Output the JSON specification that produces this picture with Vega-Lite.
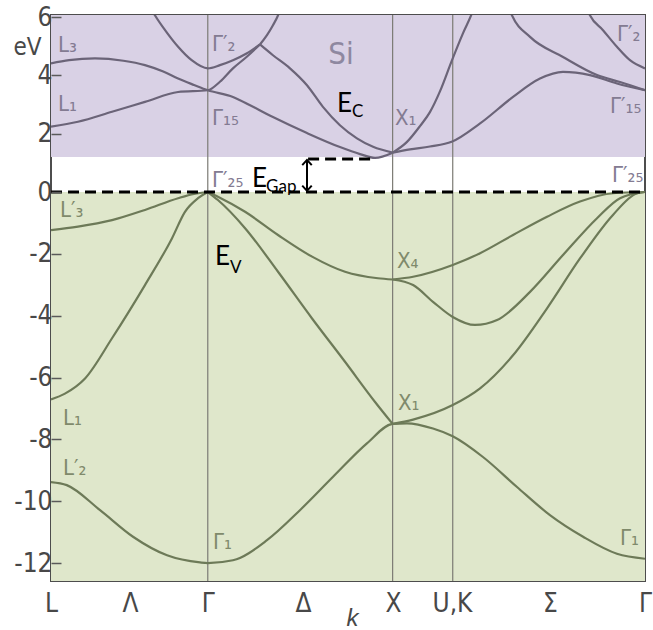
{
  "$schema": "https://vega.github.io/schema/vega-lite/v6.json",
  "width": 594,
  "height": 566,
  "autosize": "none",
  "padding": {"left": 51, "top": 15, "right": 8, "bottom": 49},
  "background": "white",
  "config": {
    "view": {"stroke": "#4d4d4d", "strokeWidth": 2},
    "axis": {"grid": false, "domain": false, "labelFont": "'Liberation Sans Narrow', 'DejaVu Sans Condensed', 'Liberation Sans', sans-serif", "labelFontSize": 26, "labelColor": "#484848", "titleFont": "'Liberation Sans Narrow', 'DejaVu Sans Condensed', 'Liberation Sans', sans-serif", "titleColor": "#484848", "titleFontWeight": "normal", "labelFlush": false, "labelOverlap": false, "labelBound": false}
  },
  "datasets": {
    "zones": [
      {"zone": "cond", "k": 0, "k2": 3.281, "E": 1.2, "E2": 6.07},
      {"zone": "val", "k": 0, "k2": 3.281, "E": -12.58, "E2": 0}
    ],
    "points": [
      {"name": "Γ", "k": 0.866, "E": -12.58, "E2": 6.07},
      {"name": "X", "k": 1.887, "E": -12.58, "E2": 6.07},
      {"name": "U,K", "k": 2.219, "E": -12.58, "E2": 6.07}
    ],
    "bands": [
      {"seg": "c_L3", "band": "cond", "k": 0, "E": 4.41},
      {"seg": "c_L3", "band": "cond", "k": 0.1, "E": 4.52},
      {"seg": "c_L3", "band": "cond", "k": 0.243, "E": 4.58},
      {"seg": "c_L3", "band": "cond", "k": 0.4, "E": 4.5},
      {"seg": "c_L3", "band": "cond", "k": 0.519, "E": 4.35},
      {"seg": "c_L3", "band": "cond", "k": 0.62, "E": 4.13},
      {"seg": "c_L3", "band": "cond", "k": 0.702, "E": 3.89},
      {"seg": "c_L3", "band": "cond", "k": 0.79, "E": 3.67},
      {"seg": "c_L3", "band": "cond", "k": 0.866, "E": 3.49},
      {"seg": "c_L3", "band": "cond", "k": 1.005, "E": 3.26},
      {"seg": "c_L3", "band": "cond", "k": 1.044, "E": 3.15},
      {"seg": "c_L3", "band": "cond", "k": 1.226, "E": 2.57},
      {"seg": "c_L3", "band": "cond", "k": 1.414, "E": 2.02},
      {"seg": "c_L3", "band": "cond", "k": 1.596, "E": 1.54},
      {"seg": "c_L3", "band": "cond", "k": 1.707, "E": 1.3},
      {"seg": "c_L3", "band": "cond", "k": 1.79, "E": 1.17},
      {"seg": "c_L3", "band": "cond", "k": 1.887, "E": 1.35},

      {"seg": "c_L1", "band": "cond", "k": 0, "E": 2.24},
      {"seg": "c_L1", "band": "cond", "k": 0.149, "E": 2.41},
      {"seg": "c_L1", "band": "cond", "k": 0.337, "E": 2.75},
      {"seg": "c_L1", "band": "cond", "k": 0.519, "E": 3.09},
      {"seg": "c_L1", "band": "cond", "k": 0.702, "E": 3.43},
      {"seg": "c_L1", "band": "cond", "k": 0.866, "E": 3.49},
      {"seg": "c_L1", "band": "cond", "k": 0.933, "E": 3.78},
      {"seg": "c_L1", "band": "cond", "k": 1.005, "E": 4.24},
      {"seg": "c_L1", "band": "cond", "k": 1.08, "E": 4.63},
      {"seg": "c_L1", "band": "cond", "k": 1.154, "E": 5.06},

      {"seg": "c_G2", "band": "cond", "k": 0.558, "E": 6.23},
      {"seg": "c_G2", "band": "cond", "k": 0.574, "E": 6.06},
      {"seg": "c_G2", "band": "cond", "k": 0.63, "E": 5.55},
      {"seg": "c_G2", "band": "cond", "k": 0.702, "E": 4.98},
      {"seg": "c_G2", "band": "cond", "k": 0.777, "E": 4.52},
      {"seg": "c_G2", "band": "cond", "k": 0.866, "E": 4.24},
      {"seg": "c_G2", "band": "cond", "k": 0.933, "E": 4.35},
      {"seg": "c_G2", "band": "cond", "k": 1.005, "E": 4.52},
      {"seg": "c_G2", "band": "cond", "k": 1.08, "E": 4.75},
      {"seg": "c_G2", "band": "cond", "k": 1.154, "E": 5.06},

      {"seg": "c_top", "band": "cond", "k": 1.154, "E": 5.06},
      {"seg": "c_top", "band": "cond", "k": 1.193, "E": 5.38},
      {"seg": "c_top", "band": "cond", "k": 1.226, "E": 5.72},
      {"seg": "c_top", "band": "cond", "k": 1.254, "E": 6.06},
      {"seg": "c_top", "band": "cond", "k": 1.265, "E": 6.25},

      {"seg": "c_down", "band": "cond", "k": 1.154, "E": 5.06},
      {"seg": "c_down", "band": "cond", "k": 1.226, "E": 4.69},
      {"seg": "c_down", "band": "cond", "k": 1.32, "E": 4.24},
      {"seg": "c_down", "band": "cond", "k": 1.414, "E": 3.66},
      {"seg": "c_down", "band": "cond", "k": 1.502, "E": 2.92},
      {"seg": "c_down", "band": "cond", "k": 1.596, "E": 2.29},
      {"seg": "c_down", "band": "cond", "k": 1.69, "E": 1.84},
      {"seg": "c_down", "band": "cond", "k": 1.779, "E": 1.55},
      {"seg": "c_down", "band": "cond", "k": 1.887, "E": 1.35},

      {"seg": "c_Xsteep", "band": "cond", "k": 1.887, "E": 1.35},
      {"seg": "c_Xsteep", "band": "cond", "k": 1.965, "E": 1.71},
      {"seg": "c_Xsteep", "band": "cond", "k": 2.038, "E": 2.26},
      {"seg": "c_Xsteep", "band": "cond", "k": 2.093, "E": 2.74},
      {"seg": "c_Xsteep", "band": "cond", "k": 2.149, "E": 3.46},
      {"seg": "c_Xsteep", "band": "cond", "k": 2.213, "E": 4.49},
      {"seg": "c_Xsteep", "band": "cond", "k": 2.276, "E": 5.45},
      {"seg": "c_Xsteep", "band": "cond", "k": 2.325, "E": 6.13},
      {"seg": "c_Xsteep", "band": "cond", "k": 2.335, "E": 6.3},

      {"seg": "c_Xgentle", "band": "cond", "k": 1.887, "E": 1.35},
      {"seg": "c_Xgentle", "band": "cond", "k": 1.983, "E": 1.46},
      {"seg": "c_Xgentle", "band": "cond", "k": 2.093, "E": 1.56},
      {"seg": "c_Xgentle", "band": "cond", "k": 2.213, "E": 1.72},
      {"seg": "c_Xgentle", "band": "cond", "k": 2.37, "E": 2.35},
      {"seg": "c_Xgentle", "band": "cond", "k": 2.552, "E": 3.26},
      {"seg": "c_Xgentle", "band": "cond", "k": 2.701, "E": 3.89},
      {"seg": "c_Xgentle", "band": "cond", "k": 2.828, "E": 4.12},
      {"seg": "c_Xgentle", "band": "cond", "k": 2.977, "E": 4.01},
      {"seg": "c_Xgentle", "band": "cond", "k": 3.126, "E": 3.72},
      {"seg": "c_Xgentle", "band": "cond", "k": 3.281, "E": 3.49},

      {"seg": "c_Sig", "band": "cond", "k": 2.53, "E": 6.3},
      {"seg": "c_Sig", "band": "cond", "k": 2.546, "E": 6.06},
      {"seg": "c_Sig", "band": "cond", "k": 2.646, "E": 5.32},
      {"seg": "c_Sig", "band": "cond", "k": 2.828, "E": 4.63},
      {"seg": "c_Sig", "band": "cond", "k": 3.016, "E": 4.01},
      {"seg": "c_Sig", "band": "cond", "k": 3.143, "E": 3.77},
      {"seg": "c_Sig", "band": "cond", "k": 3.281, "E": 3.49},

      {"seg": "c_G2R", "band": "cond", "k": 2.96, "E": 6.3},
      {"seg": "c_G2R", "band": "cond", "k": 2.977, "E": 6.06},
      {"seg": "c_G2R", "band": "cond", "k": 3.049, "E": 5.55},
      {"seg": "c_G2R", "band": "cond", "k": 3.126, "E": 4.98},
      {"seg": "c_G2R", "band": "cond", "k": 3.198, "E": 4.52},
      {"seg": "c_G2R", "band": "cond", "k": 3.281, "E": 4.24},

      {"seg": "v_L3", "band": "val", "k": 0, "E": -1.23},
      {"seg": "v_L3", "band": "val", "k": 0.149, "E": -1.12},
      {"seg": "v_L3", "band": "val", "k": 0.337, "E": -0.91},
      {"seg": "v_L3", "band": "val", "k": 0.519, "E": -0.58},
      {"seg": "v_L3", "band": "val", "k": 0.702, "E": -0.2},
      {"seg": "v_L3", "band": "val", "k": 0.79, "E": -0.06},
      {"seg": "v_L3", "band": "val", "k": 0.866, "E": 0},

      {"seg": "v_L1", "band": "val", "k": 0, "E": -6.71},
      {"seg": "v_L1", "band": "val", "k": 0.077, "E": -6.52},
      {"seg": "v_L1", "band": "val", "k": 0.188, "E": -6.03},
      {"seg": "v_L1", "band": "val", "k": 0.337, "E": -4.73},
      {"seg": "v_L1", "band": "val", "k": 0.519, "E": -3.01},
      {"seg": "v_L1", "band": "val", "k": 0.668, "E": -1.5},
      {"seg": "v_L1", "band": "val", "k": 0.74, "E": -0.64},
      {"seg": "v_L1", "band": "val", "k": 0.812, "E": -0.2},
      {"seg": "v_L1", "band": "val", "k": 0.866, "E": 0},

      {"seg": "v_GX4", "band": "val", "k": 0.866, "E": 0},
      {"seg": "v_GX4", "band": "val", "k": 0.922, "E": -0.15},
      {"seg": "v_GX4", "band": "val", "k": 1.072, "E": -0.64},
      {"seg": "v_GX4", "band": "val", "k": 1.254, "E": -1.39},
      {"seg": "v_GX4", "band": "val", "k": 1.442, "E": -2.09},
      {"seg": "v_GX4", "band": "val", "k": 1.624, "E": -2.58},
      {"seg": "v_GX4", "band": "val", "k": 1.806, "E": -2.79},
      {"seg": "v_GX4", "band": "val", "k": 1.887, "E": -2.83},

      {"seg": "v_GX1", "band": "val", "k": 0.866, "E": 0},
      {"seg": "v_GX1", "band": "val", "k": 0.922, "E": -0.26},
      {"seg": "v_GX1", "band": "val", "k": 1.072, "E": -1.17},
      {"seg": "v_GX1", "band": "val", "k": 1.254, "E": -2.58},
      {"seg": "v_GX1", "band": "val", "k": 1.442, "E": -4.09},
      {"seg": "v_GX1", "band": "val", "k": 1.624, "E": -5.49},
      {"seg": "v_GX1", "band": "val", "k": 1.79, "E": -6.79},
      {"seg": "v_GX1", "band": "val", "k": 1.887, "E": -7.5},

      {"seg": "v_G1", "band": "val", "k": 0, "E": -9.38},
      {"seg": "v_G1", "band": "val", "k": 0.087, "E": -9.48},
      {"seg": "v_G1", "band": "val", "k": 0.271, "E": -10.29},
      {"seg": "v_G1", "band": "val", "k": 0.453, "E": -11.15},
      {"seg": "v_G1", "band": "val", "k": 0.641, "E": -11.75},
      {"seg": "v_G1", "band": "val", "k": 0.823, "E": -11.98},
      {"seg": "v_G1", "band": "val", "k": 0.866, "E": -12.0},
      {"seg": "v_G1", "band": "val", "k": 1.005, "E": -11.91},
      {"seg": "v_G1", "band": "val", "k": 1.193, "E": -11.26},
      {"seg": "v_G1", "band": "val", "k": 1.375, "E": -10.29},
      {"seg": "v_G1", "band": "val", "k": 1.558, "E": -9.21},
      {"seg": "v_G1", "band": "val", "k": 1.745, "E": -8.13},
      {"seg": "v_G1", "band": "val", "k": 1.887, "E": -7.5},
      {"seg": "v_G1", "band": "val", "k": 1.966, "E": -7.48},
      {"seg": "v_G1", "band": "val", "k": 2.11, "E": -7.65},
      {"seg": "v_G1", "band": "val", "k": 2.219, "E": -7.9},
      {"seg": "v_G1", "band": "val", "k": 2.386, "E": -8.57},
      {"seg": "v_G1", "band": "val", "k": 2.574, "E": -9.54},
      {"seg": "v_G1", "band": "val", "k": 2.756, "E": -10.45},
      {"seg": "v_G1", "band": "val", "k": 2.939, "E": -11.15},
      {"seg": "v_G1", "band": "val", "k": 3.126, "E": -11.7},
      {"seg": "v_G1", "band": "val", "k": 3.281, "E": -11.86},

      {"seg": "v_X1up", "band": "val", "k": 1.887, "E": -7.5},
      {"seg": "v_X1up", "band": "val", "k": 2.0, "E": -7.36},
      {"seg": "v_X1up", "band": "val", "k": 2.219, "E": -6.89},
      {"seg": "v_X1up", "band": "val", "k": 2.37, "E": -6.35},
      {"seg": "v_X1up", "band": "val", "k": 2.552, "E": -5.28},
      {"seg": "v_X1up", "band": "val", "k": 2.74, "E": -3.76},
      {"seg": "v_X1up", "band": "val", "k": 2.922, "E": -2.15},
      {"seg": "v_X1up", "band": "val", "k": 3.104, "E": -0.74},
      {"seg": "v_X1up", "band": "val", "k": 3.237, "E": -0.04},
      {"seg": "v_X1up", "band": "val", "k": 3.281, "E": 0},

      {"seg": "v_X4up", "band": "val", "k": 1.887, "E": -2.83},
      {"seg": "v_X4up", "band": "val", "k": 2.0, "E": -2.74},
      {"seg": "v_X4up", "band": "val", "k": 2.219, "E": -2.36},
      {"seg": "v_X4up", "band": "val", "k": 2.37, "E": -1.98},
      {"seg": "v_X4up", "band": "val", "k": 2.552, "E": -1.39},
      {"seg": "v_X4up", "band": "val", "k": 2.74, "E": -0.8},
      {"seg": "v_X4up", "band": "val", "k": 2.922, "E": -0.31},
      {"seg": "v_X4up", "band": "val", "k": 3.104, "E": -0.04},
      {"seg": "v_X4up", "band": "val", "k": 3.281, "E": 0},

      {"seg": "v_X4dip", "band": "val", "k": 1.887, "E": -2.83},
      {"seg": "v_X4dip", "band": "val", "k": 2.0, "E": -3.01},
      {"seg": "v_X4dip", "band": "val", "k": 2.11, "E": -3.55},
      {"seg": "v_X4dip", "band": "val", "k": 2.219, "E": -4.04},
      {"seg": "v_X4dip", "band": "val", "k": 2.342, "E": -4.3},
      {"seg": "v_X4dip", "band": "val", "k": 2.464, "E": -4.14},
      {"seg": "v_X4dip", "band": "val", "k": 2.646, "E": -3.23},
      {"seg": "v_X4dip", "band": "val", "k": 2.828, "E": -2.04},
      {"seg": "v_X4dip", "band": "val", "k": 3.016, "E": -0.85},
      {"seg": "v_X4dip", "band": "val", "k": 3.143, "E": -0.2},
      {"seg": "v_X4dip", "band": "val", "k": 3.281, "E": 0}
    ],
    "levels": [
      {"level": "valence top", "k": 0, "k2": 3.281, "E": 0},
      {"level": "conduction bottom", "k": 1.42, "k2": 1.779, "E": 1.13}
    ],
    "gap": [
      {"k": 1.414, "E": 0.05, "E2": 1.1}
    ],
    "gapEnds": [
      {"end": "top", "k": 1.414, "E": 1.02},
      {"end": "bottom", "k": 1.414, "E": 0.12}
    ],
    "symLabels": [
      {"text": "L₃", "zone": "cond", "k": 0.039, "E": 5.03},
      {"text": "L₁", "zone": "cond", "k": 0.039, "E": 3.01},
      {"text": "Γ′₂", "zone": "cond", "k": 0.889, "E": 5.07},
      {"text": "Γ₁₅", "zone": "cond", "k": 0.889, "E": 2.53},
      {"text": "Γ′₂₅", "zone": "cond", "k": 0.889, "E": 0.41},
      {"text": "X₁", "zone": "cond", "k": 1.9, "E": 2.53},
      {"text": "Γ′₂", "zone": "cond", "k": 3.126, "E": 5.41},
      {"text": "Γ′₁₅", "zone": "cond", "k": 3.088, "E": 2.95},
      {"text": "Γ′₂₅", "zone": "cond", "k": 3.099, "E": 0.58},
      {"text": "L′₃", "zone": "val", "k": 0.05, "E": -0.58},
      {"text": "X₄", "zone": "val", "k": 1.911, "E": -2.23},
      {"text": "X₁", "zone": "val", "k": 1.917, "E": -6.83},
      {"text": "L₁", "zone": "val", "k": 0.066, "E": -7.31},
      {"text": "L′₂", "zone": "val", "k": 0.066, "E": -8.93},
      {"text": "Γ₁", "zone": "val", "k": 0.895, "E": -11.33},
      {"text": "Γ₁", "zone": "val", "k": 3.143, "E": -11.2}
    ],
    "energyLabels": [
      {"text": "E", "role": "main", "k": 1.58, "E": 3.01},
      {"text": "C", "role": "sub", "k": 1.663, "E": 2.74},
      {"text": "E", "role": "main", "k": 1.11, "E": 0.45},
      {"text": "Gap", "role": "sub", "k": 1.188, "E": 0.17},
      {"text": "E", "role": "main", "k": 0.906, "E": -2.1},
      {"text": "V", "role": "sub", "k": 0.989, "E": -2.46}
    ]
  },
  "encoding": {
    "x": {"field": "k", "type": "quantitative", "scale": {"domain": [0, 3.281], "nice": false, "zero": false},
      "axis": {"values": [0, 0.436, 0.866, 1.392, 1.889, 2.215, 2.756, 3.281], "ticks": false, "labelPadding": 9, "labelBaseline": "top",
        "labelExpr": "datum.value < 0.2 ? 'L' : datum.value < 0.6 ? 'Λ' : datum.value < 1 ? 'Γ' : datum.value < 1.6 ? 'Δ' : datum.value < 2 ? 'X' : datum.value < 2.5 ? 'U,K' : datum.value < 3.1 ? 'Σ' : 'Γ'",
        "title": "k", "titleFontStyle": "italic", "titleFont": "'Liberation Sans', sans-serif", "titleFontSize": 24, "titleX": 301, "titleY": 37, "titleBaseline": "middle", "titleAlign": "center"}},
    "y": {"field": "E", "type": "quantitative", "scale": {"domain": [-12.58, 0, 6.07], "range": [566, 177, 0], "nice": false, "zero": false},
      "axis": {"values": [-12, -10, -8, -6, -4, -2, 0, 2, 4, 6], "tickSize": -10, "tickColor": "#5a5a5a", "tickWidth": 1.5, "labelPadding": 9, "zindex": 1,
        "labelExpr": "datum.value < 0 ? '-' + abs(datum.value) : '' + datum.value",
        "title": "eV", "titleAngle": 0, "titleFontSize": 24, "titleX": -24, "titleY": 32, "titleAlign": "center", "titleBaseline": "middle"}}
  },
  "layer": [
    {
      "data": {"name": "zones"},
      "mark": {"type": "rect"},
      "encoding": {
        "x2": {"field": "k2"},
        "y2": {"field": "E2"},
        "color": {"field": "zone", "type": "nominal", "scale": {"domain": ["cond", "val"], "range": ["#d9d1e5", "#dfe7cb"]}, "legend": null}
      }
    },
    {
      "data": {"name": "points"},
      "mark": {"type": "rule", "color": "#7c7b74", "strokeWidth": 1.2},
      "encoding": {"y2": {"field": "E2"}}
    },
    {
      "data": {"name": "bands"},
      "mark": {"type": "line", "interpolate": "monotone", "strokeWidth": 2.2, "clip": true},
      "encoding": {
        "detail": {"field": "seg"},
        "stroke": {"field": "band", "type": "nominal", "scale": {"domain": ["cond", "val"], "range": ["#6b6478", "#6d7a58"]}, "legend": null}
      }
    },
    {
      "data": {"name": "levels"},
      "mark": {"type": "rule", "color": "black", "strokeWidth": 3, "strokeDash": [11, 6]},
      "encoding": {"x2": {"field": "k2"}}
    },
    {
      "data": {"name": "gap"},
      "mark": {"type": "rule", "color": "black", "strokeWidth": 2},
      "encoding": {"y2": {"field": "E2"}}
    },
    {
      "data": {"name": "gapEnds"},
      "mark": {"type": "point", "filled": false, "stroke": "black", "strokeWidth": 2, "size": 90, "opacity": 1},
      "encoding": {
        "shape": {"field": "end", "type": "nominal", "scale": {"domain": ["top", "bottom"], "range": ["M-1,0.6L0,-0.5L1,0.6", "M-1,-0.6L0,0.5L1,-0.6"]}, "legend": null}
      }
    },
    {
      "data": {"name": "symLabels"},
      "transform": [{"filter": "datum.zone === 'cond'"}],
      "mark": {"type": "text", "align": "left", "baseline": "middle", "font": "'Liberation Sans Narrow', 'DejaVu Sans Condensed', 'Liberation Sans', sans-serif", "fontSize": 22, "color": "#837b92"},
      "encoding": {"text": {"field": "text"}}
    },
    {
      "data": {"name": "symLabels"},
      "transform": [{"filter": "datum.zone === 'val'"}],
      "mark": {"type": "text", "align": "left", "baseline": "middle", "font": "'Liberation Sans Narrow', 'DejaVu Sans Condensed', 'Liberation Sans', sans-serif", "fontSize": 22, "color": "#7f8a6b"},
      "encoding": {"text": {"field": "text"}}
    },
    {
      "data": {"values": [{"text": "Si", "k": 1.602, "E": 4.69}]},
      "mark": {"type": "text", "align": "center", "baseline": "middle", "font": "'Liberation Sans Narrow', 'DejaVu Sans Condensed', 'Liberation Sans', sans-serif", "fontSize": 31, "color": "#8e88a0"},
      "encoding": {"text": {"field": "text"}}
    },
    {
      "data": {"name": "energyLabels"},
      "transform": [{"filter": "datum.role === 'main'"}],
      "mark": {"type": "text", "align": "left", "baseline": "middle", "font": "Lato", "fontSize": 26, "color": "black"},
      "encoding": {"text": {"field": "text"}}
    },
    {
      "data": {"name": "energyLabels"},
      "transform": [{"filter": "datum.role === 'sub'"}],
      "mark": {"type": "text", "align": "left", "baseline": "middle", "font": "Lato", "fontSize": 17, "color": "black"},
      "encoding": {"text": {"field": "text"}}
    }
  ]
}
